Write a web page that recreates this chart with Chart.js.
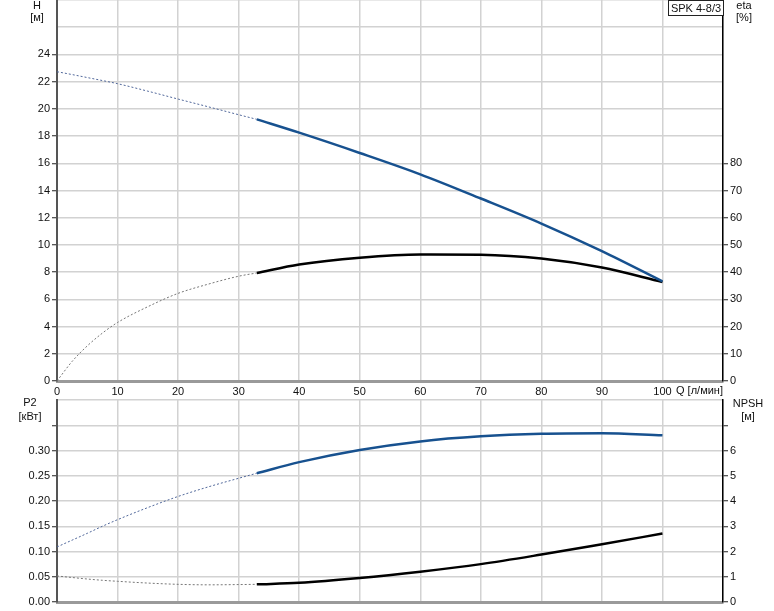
<!DOCTYPE html>
<html><head><meta charset="utf-8">
<script src="https://cdn.jsdelivr.net/npm/chart.js@4.4.0/dist/chart.umd.min.js"></script>
<style>
html,body{margin:0;padding:0;background:#fff;overflow:hidden;width:774px;height:611px;}
#c1{position:absolute;left:0;top:0;}
#c2{position:absolute;left:0;top:390px;}
</style></head><body>
<canvas id="c1" width="774" height="400"></canvas>
<canvas id="c2" width="774" height="240"></canvas>
<script>
// ---- data ----
const qDotted = [0, 2.5, 5, 7.5, 10, 15, 20, 25, 30, 33];
const qSolid  = [33, 40, 50, 60, 70, 80, 90, 100];
const hDotted    = [22.73, 22.52, 22.30, 22.08, 21.85, 21.30, 20.72, 20.15, 19.57, 19.23];
const hSolid     = [19.23, 18.25, 16.76, 15.19, 13.41, 11.57, 9.54, 7.32];
const etaDotted  = [0, 7.2, 12.9, 17.6, 21.5, 27.3, 32.2, 35.6, 38.5, 39.7];
const etaSolid   = [39.7, 42.8, 45.3, 46.5, 46.4, 45.0, 41.7, 36.4];
const p2Dotted   = [0.109, 0.1225, 0.136, 0.150, 0.163, 0.187, 0.209, 0.228, 0.245, 0.255];
const p2Solid    = [0.255, 0.277, 0.301, 0.318, 0.328, 0.333, 0.334, 0.330];
const npshDotted = [1.03, 0.97, 0.91, 0.86, 0.82, 0.75, 0.70, 0.68, 0.69, 0.70];
const npshSolid  = [0.70, 0.76, 0.95, 1.20, 1.50, 1.88, 2.29, 2.71];

const qTicks = [0, 10, 20, 30, 40, 50, 60, 70, 80, 90, 100];
const hTicks = [0, 2, 4, 6, 8, 10, 12, 14, 16, 18, 20, 22, 24];
const etaTicks = [0, 10, 20, 30, 40, 50, 60, 70, 80];
const p2Ticks = ['0.00', '0.05', '0.10', '0.15', '0.20', '0.25', '0.30'];
const npshTicks = [0, 1, 2, 3, 4, 5, 6];
const pumpName = 'SPK 4-8/3';

const BLUE = '#17518f';
const GRID = '#d2d2d2';
const TXT = '#111';
const FONT = {family: '"Liberation Sans", Arial, sans-serif', size: 11};

function pts(xs, ys){ return xs.map((x,i)=>({x:x, y:ys[i]})); }
function dotted(data, color, axis){
  return {data, yAxisID: axis, borderColor: color, borderWidth: 1, borderDash: [2,2],
    pointRadius: 0, cubicInterpolationMode: 'monotone', fill: false};
}
function solid(data, color, axis){
  return {data, yAxisID: axis, borderColor: color, borderWidth: 2.5,
    pointRadius: 0, cubicInterpolationMode: 'monotone', fill: false};
}
function near(list, v){ return list.some(t => Math.abs(Number(t) - v) < 1e-6); }

const textPlugin = {
  id: 'texts',
  afterDraw(chart, args, opts){
    const ctx = chart.ctx;
    ctx.save();
    ctx.font = '11px "Liberation Sans", Arial, sans-serif';
    ctx.fillStyle = TXT;
    ctx.textBaseline = 'middle';
    (opts.items || []).forEach(it => {
      ctx.textAlign = it.align || 'center';
      ctx.fillText(it.t, it.x, it.y);
    });
    if (opts.box) {
      const b = opts.box;
      ctx.fillStyle = '#fff';
      ctx.fillRect(b.x, b.y, b.w, b.h);
      ctx.strokeStyle = '#222';
      ctx.lineWidth = 1;
      ctx.strokeRect(b.x + 0.5, b.y + 0.5, b.w - 1, b.h - 1);
      ctx.fillStyle = TXT;
      ctx.textAlign = 'center';
      ctx.fillText(b.t, b.x + b.w / 2, b.y + b.h / 2 + 0.5);
    }
    ctx.restore();
  }
};

function xScale(h, showLabels){
  return {type: 'linear', min: 0, max: 110,
    ticks: {stepSize: 10, autoSkip: false, maxRotation: 0, font: FONT, color: TXT, padding: 4,
      callback: v => (showLabels && near(qTicks, v)) ? String(v) : ''},
    grid: {color: GRID, lineWidth: 1.5, drawTicks: false},
    border: {color: '#9a9a9a', width: 3},
    afterFit: s => { s.height = h; s.paddingLeft = 0; s.paddingRight = 0; }};
}
function yScale(pos, min, max, step, labels, tickMax, fmt, onArea){
  return {type: 'linear', position: pos, min, max,
    ticks: {stepSize: step, autoSkip: false, font: FONT, color: TXT, padding: 2,
      callback: v => near(labels, v) ? fmt(v) : ''},
    grid: {display: true, drawOnChartArea: onArea, color: GRID, lineWidth: 1.5, tickLength: 5,
      tickColor: c => (c.tick && c.tick.value <= tickMax + 1e-6) ? '#222' : 'rgba(0,0,0,0)', tickWidth: 1},
    border: {color: pos === 'left' ? '#555' : '#000', width: pos === 'left' ? 2 : 1.5},
    afterFit: s => { s.width = pos === 'left' ? 57 : 51; s.paddingTop = 0; s.paddingBottom = 0; }};
}

new Chart(document.getElementById('c1'), {
  type: 'line',
  data: {datasets: [
    dotted(pts(qDotted, hDotted), '#50679a', 'y'),
    solid(pts(qSolid, hSolid), BLUE, 'y'),
    dotted(pts(qDotted, etaDotted), '#777', 'eta'),
    solid(pts(qSolid, etaSolid), '#000', 'eta')
  ]},
  options: {
    responsive: false, animation: false, events: [],
    layout: {padding: 0},
    plugins: {legend: {display: false}, tooltip: {enabled: false},
      texts: {items: [
        {t: 'H', x: 37, y: 6}, {t: '[м]', x: 37, y: 18},
        {t: 'eta', x: 744, y: 6}, {t: '[%]', x: 744, y: 18},
        {t: 'Q [л/мин]', x: 676, y: 391, align: 'left'}
      ], box: {x: 668, y: 0, w: 56, h: 16, t: pumpName}}},
    scales: {
      x: xScale(19, true),
      y: yScale('left', 0, 28, 2, hTicks, 24, v => String(v), true),
      eta: yScale('right', 0, 140, 10, etaTicks, 80, v => String(v), false)
    }
  },
  plugins: [textPlugin]
});

new Chart(document.getElementById('c2'), {
  type: 'line',
  data: {datasets: [
    dotted(pts(qDotted, p2Dotted), '#50679a', 'p2'),
    solid(pts(qSolid, p2Solid), BLUE, 'p2'),
    dotted(pts(qDotted, npshDotted), '#777', 'npsh'),
    solid(pts(qSolid, npshSolid), '#000', 'npsh')
  ]},
  options: {
    responsive: false, animation: false, events: [],
    layout: {padding: {top: 10}},
    plugins: {legend: {display: false}, tooltip: {enabled: false},
      texts: {items: [
        {t: 'P2', x: 30, y: 13}, {t: '[кВт]', x: 30, y: 27},
        {t: 'NPSH', x: 748, y: 14}, {t: '[м]', x: 748, y: 27}
      ]}},
    scales: {
      x: xScale(28, false),
      p2: yScale('left', 0, 0.40, 0.05, p2Ticks, 0.35, v => Number(v).toFixed(2), true),
      npsh: yScale('right', 0, 8, 1, npshTicks, 7, v => String(v), false)
    }
  },
  plugins: [textPlugin]
});
</script>
</body></html>
